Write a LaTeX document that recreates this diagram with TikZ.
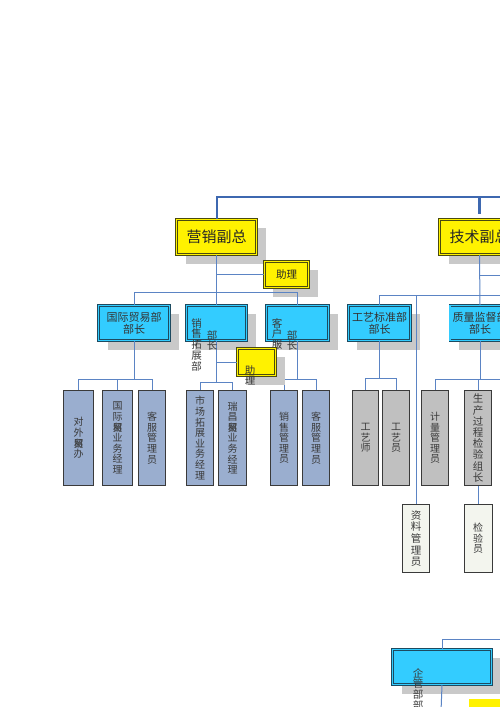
\documentclass[tikz,border=0pt]{standalone}
\usepackage{fontspec}
\newfontfamily\cjk{Noto Sans CJK SC}
\usetikzlibrary{shadows}
\definecolor{linec}{HTML}{5B84C4}
\definecolor{topc}{HTML}{3E68B0}
\definecolor{olivec}{HTML}{4A4A10}
\definecolor{cyanf}{HTML}{33CCFF}
\definecolor{cyanb}{HTML}{1D4A60}
\definecolor{bgblue}{HTML}{9AAECF}
\definecolor{bggray}{HTML}{C0C0C0}
\definecolor{bglight}{HTML}{F3F5EE}
\definecolor{bordc}{HTML}{3A3A3A}
\definecolor{shadowc}{HTML}{C9C9C9}
\definecolor{txtc}{HTML}{3A3A3A}
\tikzset{
  conn/.style={draw=linec, line width=1pt},
  topconn/.style={draw=topc, line width=2pt},
  shad/.style={drop shadow={shadow xshift=9pt, shadow yshift=-9pt, fill=shadowc, opacity=1}},
  vpbox/.style={rectangle, draw=olivec, double=yellow, double distance=1.2pt, line width=0.8pt,
    fill=yellow, shad, inner sep=0pt, text=black!85, font=\cjk\fontsize{15}{16}\selectfont},
  asbox/.style={vpbox, font=\cjk\fontsize{10.5}{11}\selectfont},
  dept/.style={rectangle, draw=cyanb, double=cyanf, double distance=1.2pt, line width=0.8pt,
    fill=cyanf, shad, inner sep=0pt, align=center, minimum height=35.2pt, text=black!80,
    font=\cjk\fontsize{11}{12}\selectfont},
  child/.style={rectangle, draw=bordc, line width=1pt, inner sep=0pt, align=center,
    minimum height=95pt, text=txtc, font=\cjk\fontsize{10}{10.6}\selectfont},
  vtext/.style={inner sep=0pt, align=center, anchor=north, text=txtc,
    font=\cjk\fontsize{10.5}{10.8}\selectfont}
}
\begin{document}
\begin{tikzpicture}[x=1pt,y=-1pt]
\useasboundingbox (0,0) rectangle (500,707);
\clip (0,0) rectangle (500,707);

% ---------- helper coordinates ----------
\coordinate (topL) at (216.5,197);
\coordinate (topR) at (505,197);
\coordinate (stubT) at (479.5,197);
\coordinate (stubB) at (479.5,214);
\coordinate (busA) at (0,292);
\coordinate (busB) at (0,295);
\coordinate (busBR) at (505,295);
\coordinate (asR) at (505,275);
\coordinate (k1) at (0,379);
\coordinate (k2) at (0,382);
\coordinate (k3) at (0,378);
\coordinate (k1R) at (505,379);
\coordinate (eb) at (0,639);
\coordinate (ebR) at (505,639);
\coordinate (ebot) at (441,712);

% ---------- nodes ----------
\node[vpbox, minimum width=80pt, minimum height=35.2pt] (vp1) at (216.5,237) {营销副总};
\node[vpbox, minimum width=80pt, minimum height=35.2pt] (vp2) at (479.5,237) {技术副总};
\node[asbox, minimum width=44.5pt, minimum height=26.5pt] (as1) at (286.5,274.5) {助理};

\node[dept, minimum width=71pt] (d1) at (134,323) {国际贸易部\\部长};
\node[dept, minimum width=60.2pt] (d2) at (216.5,323) {};
\node[dept, minimum width=62.2pt] (d3) at (297.5,323) {};
\node[dept, minimum width=62.2pt] (d4) at (379.5,323) {工艺标准部\\部长};
\node[dept, minimum width=60.2pt] (d5) at (480,323) {质量监督部\\部长};

\node[child, fill=bgblue, minimum width=30pt] (c1) at (78.5,438) {对\\外\\{\rlap{贸}易}\\办};
\node[child, fill=bgblue, minimum width=30pt] (c2) at (117.5,438) {国\\际\\{\rlap{贸}易}\\业\\务\\经\\理};
\node[child, fill=bgblue, minimum width=27pt] (c3) at (152,438) {客\\服\\管\\理\\员};
\node[child, fill=bgblue, minimum width=27pt] (c4) at (200,438) {市\\场\\拓\\展\\业\\务\\经\\理};
\node[child, fill=bgblue, minimum width=28pt] (c5) at (232.5,438) {瑞\\昌\\{\rlap{贸}易}\\业\\务\\经\\理};
\node[child, fill=bgblue, minimum width=27pt] (c6) at (284,438) {销\\售\\管\\理\\员};
\node[child, fill=bgblue, minimum width=27pt] (c7) at (316,438) {客\\服\\管\\理\\员};
\node[child, fill=bggray, minimum width=26pt] (c8) at (365.5,438) {工\\艺\\师};
\node[child, fill=bggray, minimum width=27pt] (c9) at (396,438) {工\\艺\\员};
\node[child, fill=bggray, minimum width=27pt] (c10) at (435,438) {计\\量\\管\\理\\员};
\node[child, fill=bggray, minimum width=27pt, font=\cjk\fontsize{10.5}{11.2}\selectfont] (c11) at (478,438) {生\\产\\过\\程\\检\\验\\组\\长};
\node[child, fill=bglight, minimum width=27pt, minimum height=68pt, font=\cjk\fontsize{10.5}{11.6}\selectfont] (c12) at (416,538.5) {资\\料\\管\\理\\员};
\node[child, fill=bglight, minimum width=28pt, minimum height=68pt] (c13) at (478,538.5) {检\\验\\员};

\node[dept, minimum width=99pt] (e) at (442,667) {};
\node[vpbox, minimum width=70pt, minimum height=30pt] (y3) at (505,715) {};

% ---------- connectors (behind) ----------
\begin{scope}[on background layer/.style={}]
\end{scope}
\draw[topconn] (vp1.north) -- (topL) -- (topR);
\draw[draw=topc, line width=3pt] (stubT) -- (stubB);

\draw[conn] (vp1.south) -- (d2.north);
\draw[conn] (vp1.south |- as1.west) -- (as1.west);
\draw[conn] (d1.north) -- (d1.north |- busA) -- (d3.north |- busA) -- (d3.north);

\draw[conn] (d1.south) -- (d1.south |- k1);
\draw[conn] (c1.north) -- (c1.north |- k1) -- (c3.north |- k1) -- (c3.north);
\draw[conn] (c2.north) -- (c2.north |- k1);

\draw[conn] (d2.south) -- (d2.south |- k2);
\draw[conn] (c4.north) -- (c4.north |- k2) -- (c5.north |- k2) -- (c5.north);

\draw[conn] (d3.south) -- (d3.south |- k1);
\draw[conn] (c6.north) -- (c6.north |- k1) -- (c7.north |- k1) -- (c7.north);

\draw[conn] (vp2.south) -- (d5.north);
\draw[conn] (vp2.south |- asR) -- (asR);
\draw[conn] (d4.north) -- (d4.north |- busB) -- (busBR);
\draw[conn] (c12.north |- busB) -- (c12.north);

\draw[conn] (d4.south) -- (d4.south |- k3);
\draw[conn] (c8.north) -- (c8.north |- k3) -- (c9.north |- k3) -- (c9.north);

\draw[conn] (d5.south) -- (d5.south |- k1);
\draw[conn] (c10.north) -- (c10.north |- k1) -- (k1R);
\draw[conn] (c11.north |- k1) -- (c11.north);
\draw[conn] (c11.south) -- (c13.north);

\draw[conn] (e.north) -- (e.north |- eb) -- (ebR);
\draw[conn] (e.south) -- (ebot);

% ---------- overflowing texts ----------
\node[vtext] (t2a) at (196.5,318) {销\\售\\拓\\展\\部};
\node[vtext] (t2b) at (212,330) {部\\长};
\begin{scope}
  \clip (265,300) rectangle (290,348);
  \node[vtext] (t3a) at (277,318) {客\\户\\服\\务\\部};
\end{scope}
\node[vtext] (t3b) at (292,330) {部\\长};
\node[vtext] (te) at (418,668) {企\\管\\部\\部\\长};

% ---------- second assistant (on top) ----------
\node[vpbox, minimum width=38.2pt, minimum height=27.2pt] (as2) at (256.5,362) {};
\draw[conn] (as2.west -| d2.south) -- (as2.west);
\node[vtext, text=black!80] (t4) at (250,365) {助\\理};
\end{tikzpicture}
\end{document}
